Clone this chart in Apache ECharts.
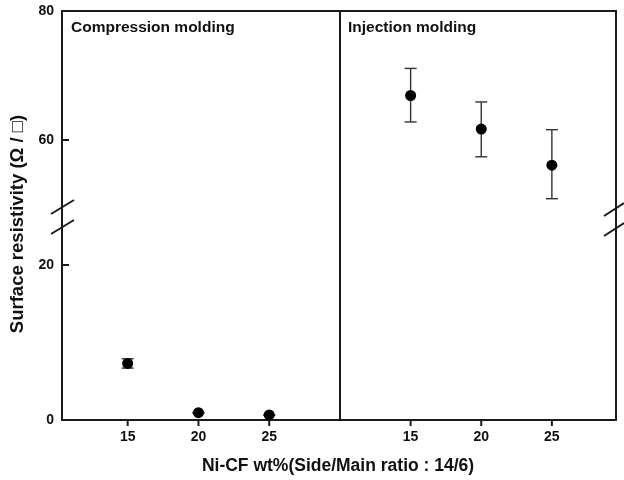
<!DOCTYPE html>
<html>
<head>
<meta charset="utf-8">
<script src="https://cdn.jsdelivr.net/npm/echarts@6/dist/echarts.min.js"></script>
<style>html,body{margin:0;padding:0;background:#fff}#c{width:624px;height:480px}</style>
</head>
<body>
<div id="c"></div>
<script>
// ---- data ----
const ratios = [15, 20, 25];
const compressionMean = [7.3, 0.95, 0.65];
const compressionLow  = [6.7, 0.95, 0.65];
const compressionHigh = [7.9, 0.95, 0.65];
const injectionMean = [66.9, 61.7, 56.1];
const injectionLow  = [62.8, 57.4, 50.9];
const injectionHigh = [71.1, 65.9, 61.6];
const xTicks = [15, 20, 25];
const yTicksUpper = [60, 80];
const yTicksLower = [0, 20];
const panelTitles = ['Compression molding', 'Injection molding'];
const xName = 'Ni-CF wt%(Side/Main ratio : 14/6)';
const yName = 'Surface resistivity (Ω / □)';

const FONT = '"Liberation Sans", Arial, sans-serif';
const INK = '#1a1a1a';
function lineStyle() { return {color: INK, width: 2}; }

function pts(xs, ys) { return xs.map((x, i) => [x, ys[i]]); }
function bars(xs, lo, hi) { return xs.map((x, i) => [x, lo[i], hi[i]]); }

function errRender(params, api) {
  const x = api.value(0), lo = api.value(1), hi = api.value(2);
  const t = api.coord([x, hi]), b = api.coord([x, lo]);
  const h = 6;
  const st = {stroke: '#333', lineWidth: 1.4};
  return {type: 'group', children: [
    {type: 'line', shape: {x1: t[0], y1: t[1], x2: b[0], y2: b[1]}, style: st},
    {type: 'line', shape: {x1: t[0] - h, y1: t[1], x2: t[0] + h, y2: t[1]}, style: st},
    {type: 'line', shape: {x1: b[0] - h, y1: b[1], x2: b[0] + h, y2: b[1]}, style: st}
  ]};
}
// tick marks drawn through the axes' own scales
function yTickRender(params, api) {
  const p = api.coord([api.value(0), api.value(1)]);
  return {type: 'line', shape: {x1: p[0], y1: p[1], x2: p[0] + 7, y2: p[1]}, style: {stroke: INK, lineWidth: 2}};
}
function xTickRender(params, api) {
  const p = api.coord([api.value(0), api.value(1)]);
  return {type: 'line', shape: {x1: p[0], y1: p[1], x2: p[0], y2: p[1] + 6}, style: {stroke: INK, lineWidth: 2}};
}

const upperMin = 48.22, upperMax = 80;
const lowerMin = 0, lowerMax = 26.32;
const leftXMin = 10.36, leftXMax = 30;
const rightXMin = 10, rightXMax = 29.54;

function xAx(grid, min, max, pos, labels) {
  return {
    type: 'value', gridIndex: grid, min: min, max: max, position: pos,
    axisLine: {show: true, onZero: false, lineStyle: lineStyle()},
    splitLine: {show: false},
    axisTick: {show: false},
    axisLabel: labels ? {show: true, customValues: xTicks, margin: 10, fontFamily: FONT, fontWeight: 'bold', fontSize: 14, color: '#111'} : {show: false}
  };
}
function yAx(grid, min, max, pos, ticks) {
  return {
    type: 'value', gridIndex: grid, min: min, max: max, position: pos,
    axisLine: {show: true, onZero: false, lineStyle: lineStyle()},
    splitLine: {show: false},
    axisTick: {show: false},
    axisLabel: ticks ? {show: true, customValues: ticks, margin: 8, fontFamily: FONT, fontWeight: 'bold', fontSize: 14, color: '#111'} : {show: false}
  };
}

const chart = echarts.init(document.getElementById('c'), null, {renderer: 'canvas'});
chart.setOption({
  animation: false,
  backgroundColor: '#fff',
  grid: [
    {left: 62, top: 11, width: 278, height: 205},
    {left: 62, top: 216, width: 278, height: 204},
    {left: 340, top: 11, width: 276, height: 205},
    {left: 340, top: 216, width: 276, height: 204}
  ],
  xAxis: [
    xAx(0, leftXMin, leftXMax, 'top', false),
    xAx(1, leftXMin, leftXMax, 'bottom', true),
    xAx(2, rightXMin, rightXMax, 'top', false),
    xAx(3, rightXMin, rightXMax, 'bottom', true)
  ],
  yAxis: [
    yAx(0, upperMin, upperMax, 'left', yTicksUpper),
    yAx(1, lowerMin, lowerMax, 'left', yTicksLower),
    yAx(2, upperMin, upperMax, 'left', null),
    yAx(3, lowerMin, lowerMax, 'left', null),
    yAx(2, upperMin, upperMax, 'right', null),
    yAx(3, lowerMin, lowerMax, 'right', null)
  ],
  series: [
    {type: 'custom', xAxisIndex: 0, yAxisIndex: 0, renderItem: yTickRender, clip: false, silent: true, z: 1, data: yTicksUpper.map(v => [leftXMin, v])},
    {type: 'custom', xAxisIndex: 1, yAxisIndex: 1, renderItem: yTickRender, clip: false, silent: true, z: 1, data: yTicksLower.map(v => [leftXMin, v])},
    {type: 'custom', xAxisIndex: 1, yAxisIndex: 1, renderItem: xTickRender, clip: false, silent: true, z: 1, data: xTicks.map(v => [v, lowerMin])},
    {type: 'custom', xAxisIndex: 3, yAxisIndex: 3, renderItem: xTickRender, clip: false, silent: true, z: 1, data: xTicks.map(v => [v, lowerMin])},
    {type: 'custom', xAxisIndex: 1, yAxisIndex: 1, renderItem: errRender, encode: {x: 0, y: [1, 2]}, data: bars(ratios, compressionLow, compressionHigh), z: 2, silent: true},
    {type: 'scatter', xAxisIndex: 1, yAxisIndex: 1, symbol: 'circle', symbolSize: 11, itemStyle: {color: '#000', opacity: 1}, data: pts(ratios, compressionMean), z: 3},
    {type: 'custom', xAxisIndex: 2, yAxisIndex: 2, renderItem: errRender, encode: {x: 0, y: [1, 2]}, data: bars(ratios, injectionLow, injectionHigh), z: 2, silent: true},
    {type: 'scatter', xAxisIndex: 2, yAxisIndex: 2, symbol: 'circle', symbolSize: 11, itemStyle: {color: '#000', opacity: 1}, data: pts(ratios, injectionMean), z: 3}
  ],
  graphic: [
    {type: 'text', x: 71, y: 20, style: {text: panelTitles[0], font: 'bold 15.5px ' + FONT, fill: '#111'}},
    {type: 'text', x: 348, y: 20, style: {text: panelTitles[1], font: 'bold 15.5px ' + FONT, fill: '#111'}},
    {type: 'text', x: 338, y: 466, style: {text: xName, font: 'bold 17.5px ' + FONT, fill: '#111', textAlign: 'center', textVerticalAlign: 'middle'}},
    {type: 'text', x: 18, y: 224, rotation: Math.PI / 2, style: {text: yName, font: 'bold 18.5px ' + FONT, fill: '#111', textAlign: 'center', textVerticalAlign: 'middle'}},
    {type: 'line', shape: {x1: 51, y1: 214, x2: 74, y2: 200}, style: {stroke: INK, lineWidth: 2}},
    {type: 'line', shape: {x1: 51, y1: 234, x2: 74, y2: 220}, style: {stroke: INK, lineWidth: 2}},
    {type: 'line', shape: {x1: 604, y1: 216, x2: 624, y2: 203}, style: {stroke: INK, lineWidth: 2}},
    {type: 'line', shape: {x1: 604, y1: 236, x2: 624, y2: 223}, style: {stroke: INK, lineWidth: 2}}
  ]
});
</script>
</body>
</html>
